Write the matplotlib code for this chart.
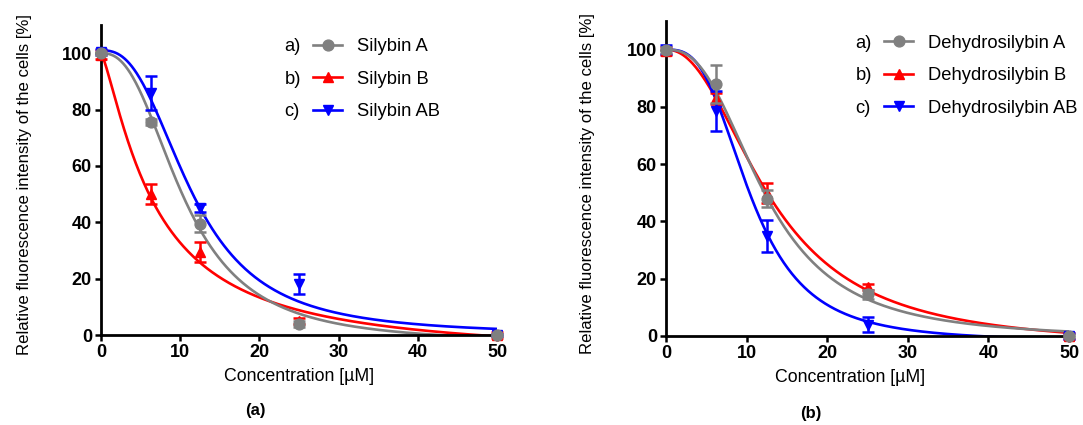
import numpy as np
import matplotlib.pyplot as plt
from matplotlib.lines import Line2D

plt.rcParams['font.family'] = ['Liberation Sans', 'DejaVu Sans']

conc = [0, 6.25, 12.5, 25, 50]

# panel (a) - mean values and error bars
sil_a = [100, 75.5, 39.5, 4, 0]
sil_a_err = [0.5, 1, 3, 1, 0.5]
sil_b = [99.5, 50, 29.5, 5, 0]
sil_b_err = [1.5, 3.5, 3.5, 1, 1]
sil_ab = [100.5, 86, 45, 18, 0]
sil_ab_err = [1, 6, 1.5, 3.5, 0.5]

# panel (b)
dhs_a = [100, 88, 48, 14.5, 0]
dhs_a_err = [1, 6.5, 3, 1.5, 0.5]
dhs_b = [99.5, 83, 50, 17, 0]
dhs_b_err = [1.5, 2, 3.5, 1, 1]
dhs_ab = [100, 78.5, 35, 4, 0]
dhs_ab_err = [1.5, 7, 5.5, 2.5, 1]

# fitted dose-response curves: top, bottom, IC50, hill slope
fit_sil_a = [100, -3, 10.5, 2.5]
fit_sil_b = [100, -8, 6.8, 1.3]
fit_sil_ab = [101, 0, 11.5, 2.6]
fit_dhs_a = [100, -1, 12.3, 2.6]
fit_dhs_b = [100, -4, 13.0, 2.2]
fit_dhs_ab = [100, -2, 10.5, 3.0]

labels_a = ['Silybin A', 'Silybin B', 'Silybin AB']
labels_b = ['Dehydrosilybin A', 'Dehydrosilybin B', 'Dehydrosilybin AB']
colors = ['#808080', '#ff0000', '#0000ff']
markers = ['o', '^', 'v']


def logistic(x, p):
    top, bottom, ic50, hill = p
    return bottom + (top - bottom) / (1 + (x / ic50) ** hill)


def draw_panel(ax, series, errs, fits, names, caption, leg_x, xlab_x):
    xs = np.linspace(0, 50, 500)
    for i in [1, 2, 0]:  # grey drawn on top
        ax.plot(xs, logistic(xs, fits[i]), color=colors[i], lw=1.9, zorder=2)
        ax.errorbar(conc, series[i], yerr=errs[i], fmt=markers[i], color=colors[i],
                    ms=7.8, elinewidth=1.8, capsize=4.3, capthick=1.8,
                    clip_on=False, zorder=5 if i == 0 else 4)
    ax.set_xlim(0, 50)
    ax.set_ylim(0, 110)
    ax.set_xticks([0, 10, 20, 30, 40, 50])
    ax.set_yticks([0, 20, 40, 60, 80, 100])
    for s in ['top', 'right']:
        ax.spines[s].set_visible(False)
    for s in ['left', 'bottom']:
        ax.spines[s].set_linewidth(2)
    ax.tick_params(direction='out', length=4.5, width=1.8, labelsize=13, pad=2)
    for t in ax.get_xticklabels() + ax.get_yticklabels():
        t.set_fontweight('bold')
    ax.set_xlabel('Concentration [µM]', fontsize=12.8)
    ax.xaxis.set_label_coords(xlab_x, -0.105)
    ax.set_ylabel('Relative fluorescence intensity of the cells [%]', fontsize=12.1)
    ax.yaxis.set_label_coords(-0.175, 0.485)

    handles = [Line2D([], [], color=colors[i], marker=markers[i], ms=7.8, lw=1.9)
               for i in range(3)]
    leg = ax.legend(handles, names, loc='upper left', bbox_to_anchor=(leg_x, 0.957),
                    frameon=False, fontsize=13.2, handlelength=1.6, handletextpad=0.8,
                    labelspacing=0.85, borderpad=0, borderaxespad=0)
    ax.add_artist(leg)
    blanks = [Line2D([], [], alpha=0) for _ in range(3)]
    ax.legend(blanks, ['a)', 'b)', 'c)'], loc='upper right',
              bbox_to_anchor=(leg_x - 0.03, 0.957), frameon=False, fontsize=13.2,
              handlelength=0, handletextpad=0, labelspacing=0.85,
              borderpad=0, borderaxespad=0)
    ax.text(0.39 if caption == '(a)' else 0.36, -0.245, caption, transform=ax.transAxes,
            ha='center', va='center', fontsize=12, fontweight='bold')


fig = plt.figure(figsize=(10.83, 4.25), dpi=100)
ax1 = fig.add_axes([101 / 1083, 1 - 335 / 425, 396 / 1083, 310 / 425])
ax2 = fig.add_axes([666 / 1083, 1 - 336 / 425, 403 / 1083, 315 / 425])

draw_panel(ax1, [sil_a, sil_b, sil_ab], [sil_a_err, sil_b_err, sil_ab_err],
           [fit_sil_a, fit_sil_b, fit_sil_ab], labels_a, '(a)', 0.535, 0.5)
draw_panel(ax2, [dhs_a, dhs_b, dhs_ab], [dhs_a_err, dhs_b_err, dhs_ab_err],
           [fit_dhs_a, fit_dhs_b, fit_dhs_ab], labels_b, '(b)', 0.541, 0.457)

fig.savefig('out.png', dpi=100)
